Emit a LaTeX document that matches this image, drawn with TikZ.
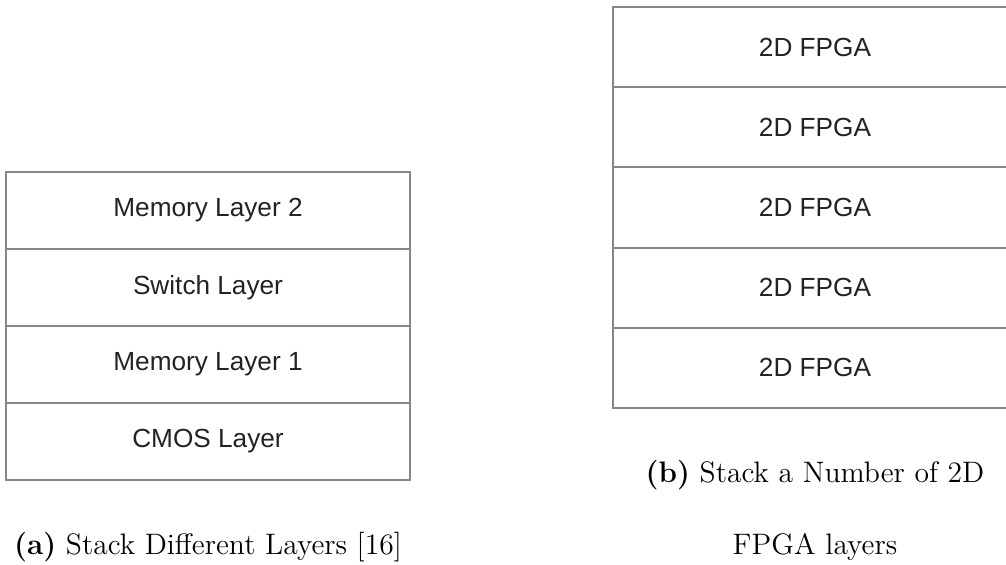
\documentclass[tikz,border=0pt]{standalone}
\usepackage{fontspec}
\usepackage{tikz}
\usetikzlibrary{positioning}
\newfontfamily\layerfont{Liberation Sans}
\definecolor{layerline}{RGB}{135, 135, 135}
\definecolor{layertext}{RGB}{35, 35, 35}
\tikzset{
  layer/.style = {
    rectangle, draw=layerline, line width=1pt,
    minimum width=202pt, minimum height=#1,
    inner sep=0pt, outer sep=0pt,
    font=\layerfont\fontsize{13.1}{15}\selectfont, text=layertext
  },
  layer/.default = 38.5pt,
  subcap/.style = {
    inner sep=0pt, align=center,
    font=\fontsize{14.8}{18}\selectfont
  },
}

\begin{document}
\begin{tikzpicture}[x=0.5pt, y=-0.5pt]

  \useasboundingbox (0,0) rectangle (1006,565);

  %% -- (a) different layers ---------------------------------------------
  \node[layer, anchor=north west] (mem2) at (6,172) {Memory Layer 2};
  \node[layer, below=0pt of mem2] (switch) {Switch Layer};
  \node[layer, below=0pt of switch] (mem1) {Memory Layer 1};
  \node[layer, below=0pt of mem1] (cmos) {CMOS Layer};

  \node[subcap, anchor=base] (capa) at (208,555)
    {\textbf{(a)} Stack Different Layers [16]};

  %% -- (b) stacked 2D FPGAs ---------------------------------------------
  \node[layer=40.1pt, anchor=north west] (fpga5) at (613,7) {2D FPGA};
  \node[layer=40.1pt, below=0pt of fpga5] (fpga4) {2D FPGA};
  \node[layer=40.1pt, below=0pt of fpga4] (fpga3) {2D FPGA};
  \node[layer=40.1pt, below=0pt of fpga3] (fpga2) {2D FPGA};
  \node[layer=40.1pt, below=0pt of fpga2] (fpga1) {2D FPGA};

  \node[subcap, anchor=base] (capb) at (815,555)
    {\textbf{(b)} Stack a Number of 2D\\[18pt] FPGA layers};

\end{tikzpicture}
\end{document}
